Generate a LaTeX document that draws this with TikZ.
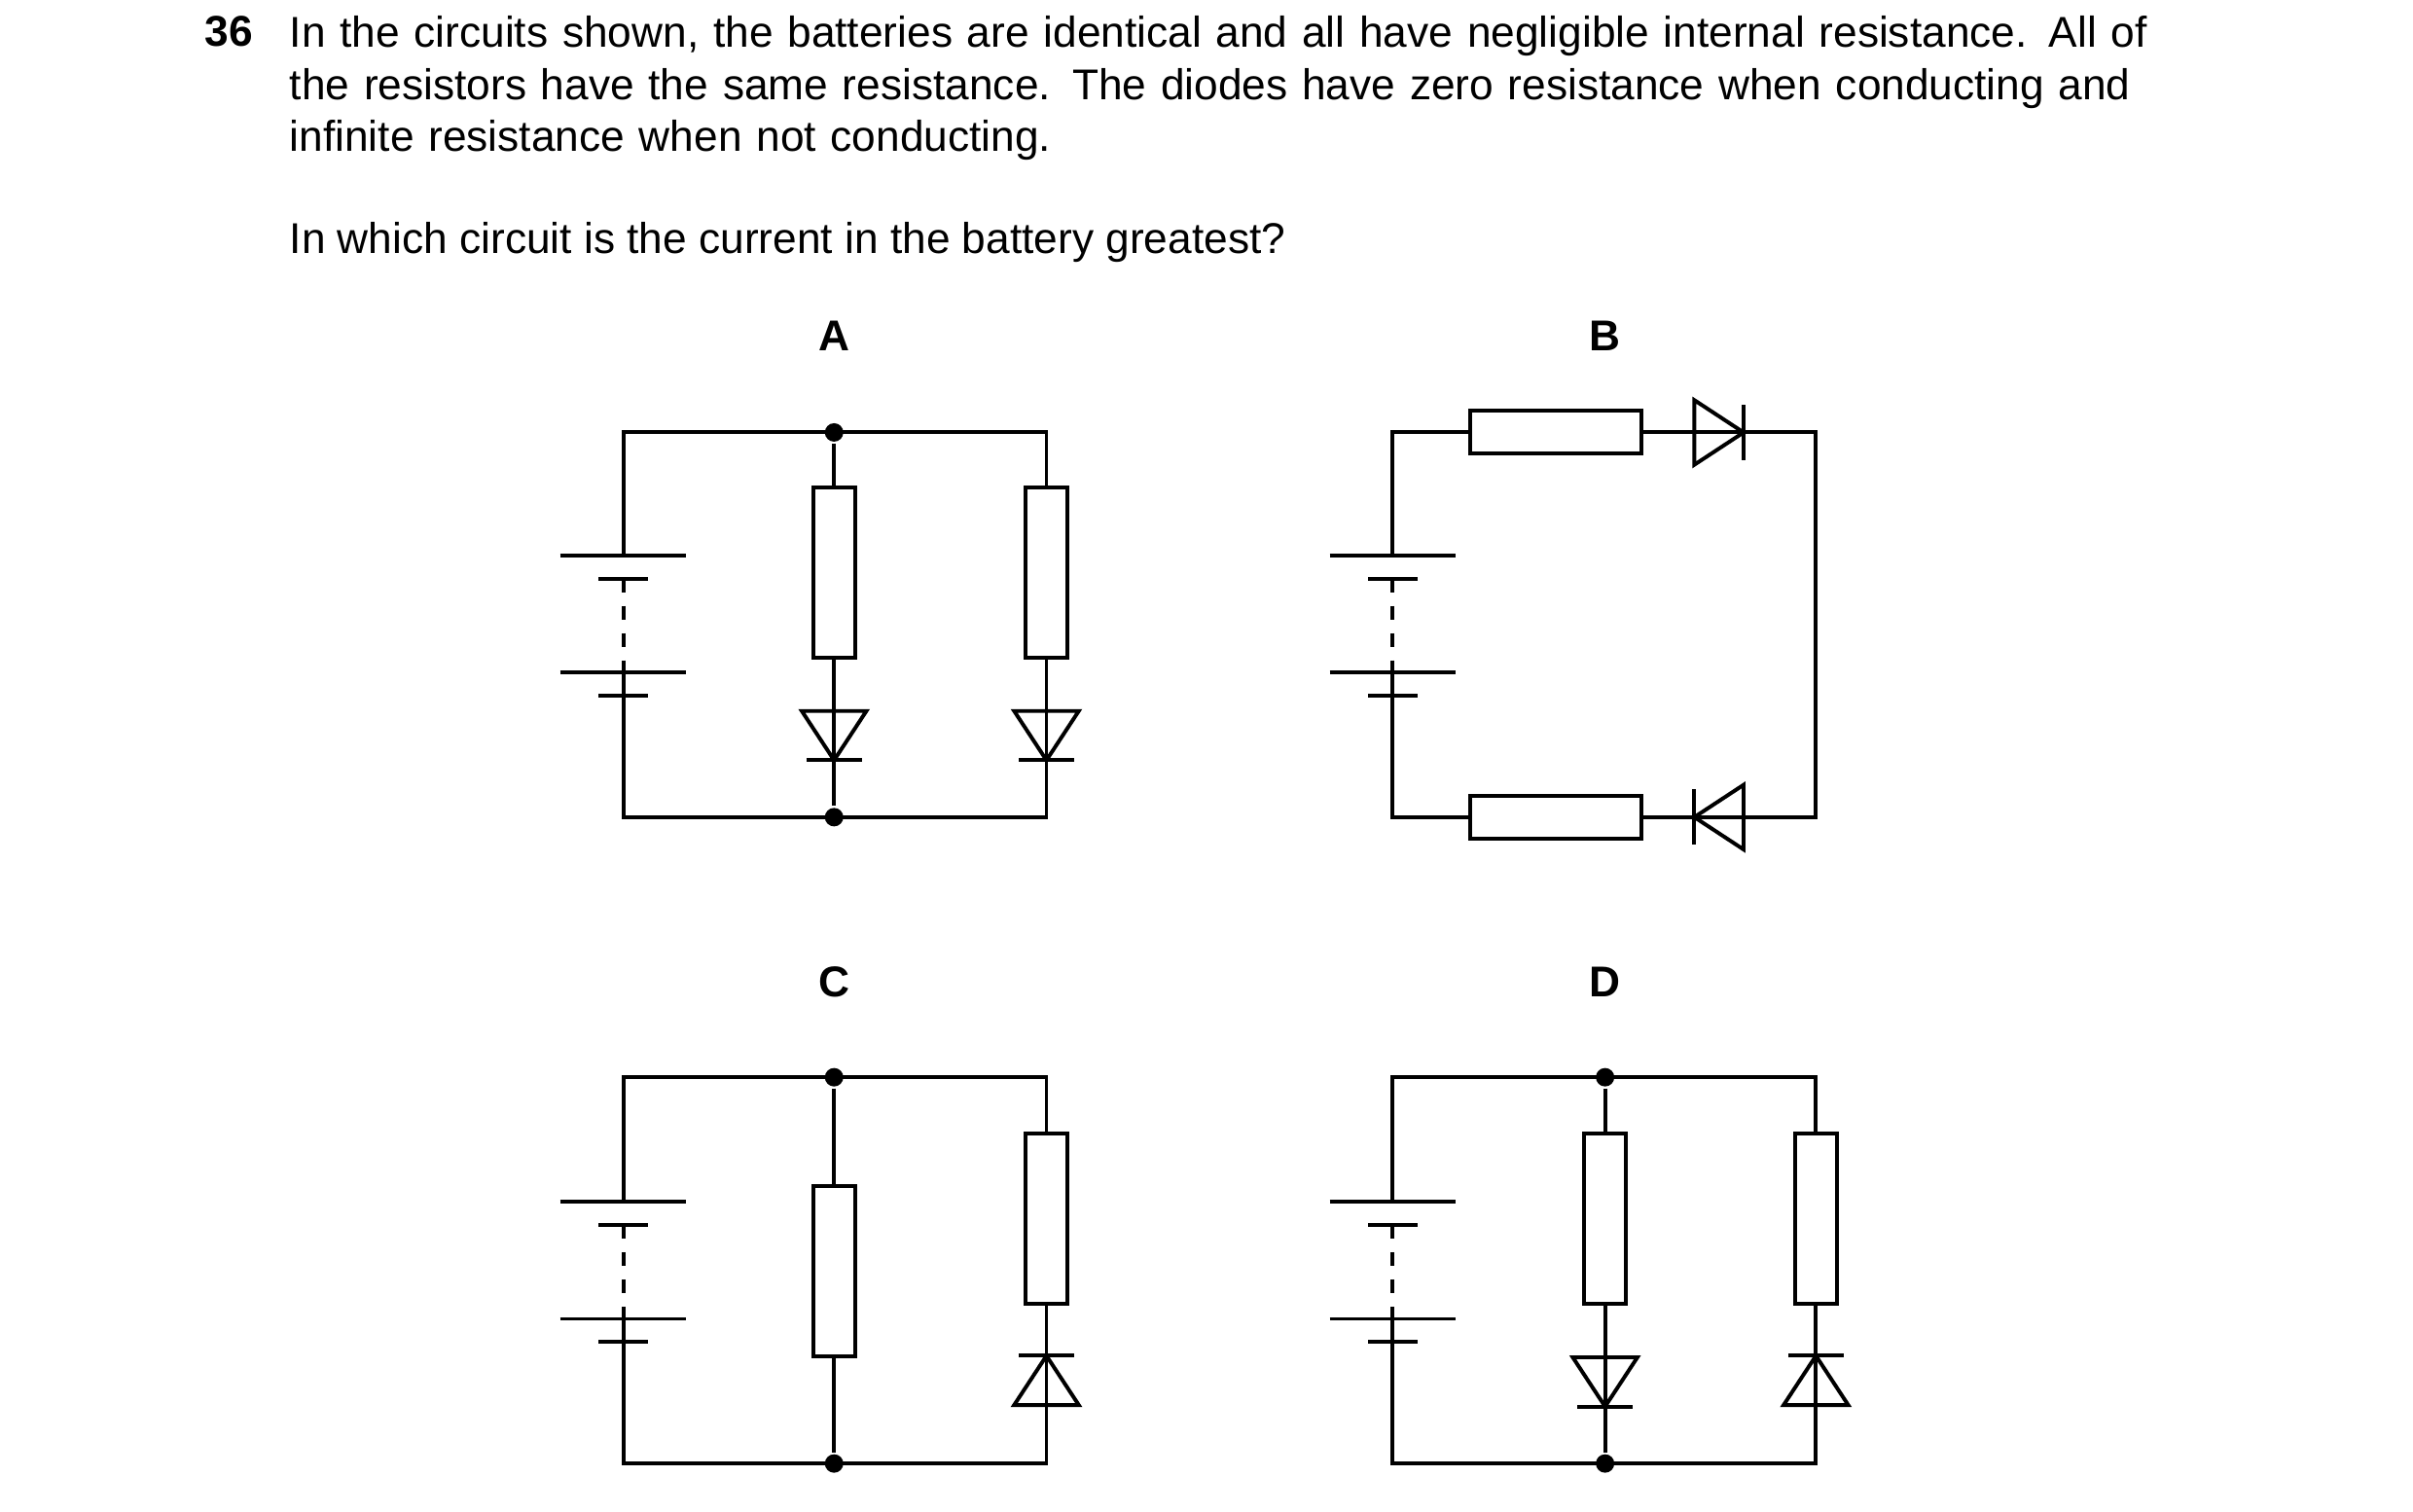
\documentclass[tikz,border=0pt]{standalone}
\usepackage{fontspec}
\setmainfont{Liberation Sans}
\tikzset{
  cell/.pic={
    \coordinate (-p) at (0,0);
    \coordinate (-m) at (0,91);
    \draw (-41,0) -- (41,0);
    \draw (-16,15) -- (16,15);
    \draw (-41,76) -- (41,76);
    \draw (-16,91) -- (16,91);
    \draw[dash pattern=on 0.14cm off 0.14cm] (0,15) -- (0,76);
    \draw (0,76) -- (0,91);
  },
  diode/.pic={
    \coordinate (-a) at (0,0);
    \coordinate (-k) at (0,32);
    \draw[line join=miter] (-21,0) -- (21,0) -- (0,32) -- cycle;
    \draw (-18,32) -- (18,32);
    \draw (0,0) -- (0,32);
  },
}
\begin{document}
\begin{tikzpicture}[x=0.01582cm,y=-0.01582cm,line width=1.12pt,
  every node/.style={inner sep=0pt},
  vres/.style={draw,fill=white,minimum width=0.43cm,minimum height=1.75cm},
  hres/.style={draw,fill=white,minimum width=1.76cm,minimum height=0.44cm},
  dot/.style={circle,fill,minimum size=0.19cm},
  lbl/.style={font=\bfseries\fontsize{12.6pt}{15.3pt}\selectfont}]
  \useasboundingbox (0,0) rectangle (1568,982.5);

  % question text
  \node[lbl,anchor=north west] (qnum) at (132,9) {36};
  \node[anchor=north west,text width=19.78cm,font=\fontsize{12.6pt}{15.3pt}\selectfont] (qtext) at (187,9)
    {In the circuits shown, the batteries are identical and all have negligible internal resistance. All of\linebreak
     the resistors have the same resistance. The diodes have zero resistance when conducting and\linebreak
     infinite resistance when not conducting.\par};
  \node[anchor=north west,font=\fontsize{12.6pt}{15.3pt}\selectfont] (qask) at (187,143)
    {In which circuit is the current in the battery greatest?};

  % labels
  \node[lbl] (labA) at (542,218) {A};
  \node[lbl] (labB) at (1043,218) {B};
  \node[lbl] (labC) at (542,638) {C};
  \node[lbl] (labD) at (1043,638) {D};

  % circuit A
  \coordinate (A-tl) at (405,281);
  \coordinate (A-bl) at (405,531);
  \coordinate (A-tr) at (680,281);
  \coordinate (A-br) at (680,531);
  \node[dot] (A-top) at (542,281) {};
  \node[dot] (A-bot) at (542,531) {};
  \pic (A-bat) at (405,361) {cell};
  \node[vres] (A-r1) at (542,372) {};
  \node[vres] (A-r2) at (680,372) {};
  \pic (A-d1) at (542,462) {diode};
  \pic (A-d2) at (680,462) {diode};
  \draw (A-bat-p) -- (A-tl) -- (A-tr) -- (A-r2.north);
  \draw (A-bat-m) -- (A-bl) -- (A-br) -- (A-d2-k);
  \draw (A-top) -- (A-r1.north);
  \draw (A-r1.south) -- (A-d1-a);
  \draw (A-r2.south) -- (A-d2-a);
  \draw (A-d1-k) -- (A-bot);

  % circuit B
  \coordinate (B-tl) at (905,281);
  \coordinate (B-bl) at (905,531);
  \coordinate (B-tr) at (1180,281);
  \coordinate (B-br) at (1180,531);
  \pic (B-bat) at (905,361) {cell};
  \node[hres] (B-r1) at (1011,281) {};
  \node[hres] (B-r2) at (1011,531) {};
  \pic[rotate=90] (B-d1) at (1101,281) {diode};
  \pic[rotate=-90] (B-d2) at (1133,531) {diode};
  \draw (B-bat-p) -- (B-tl) -- (B-r1.west);
  \draw (B-r1.east) -- (B-d1-a);
  \draw (B-d1-k) -- (B-tr) -- (B-br) -- (B-d2-a);
  \draw (B-d2-k) -- (B-r2.east);
  \draw (B-r2.west) -- (B-bl) -- (B-bat-m);

  % circuit C
  \coordinate (C-tl) at (405,700);
  \coordinate (C-bl) at (405,951);
  \coordinate (C-tr) at (680,700);
  \coordinate (C-br) at (680,951);
  \node[dot] (C-top) at (542,700) {};
  \node[dot] (C-bot) at (542,951) {};
  \pic (C-bat) at (405,781) {cell};
  \node[vres] (C-r1) at (542,826) {};
  \node[vres] (C-r2) at (680,792) {};
  \pic[rotate=180] (C-d2) at (680,913) {diode};
  \draw (C-bat-p) -- (C-tl) -- (C-tr) -- (C-r2.north);
  \draw (C-bat-m) -- (C-bl) -- (C-br) -- (C-d2-a);
  \draw (C-top) -- (C-r1.north);
  \draw (C-r1.south) -- (C-bot);
  \draw (C-r2.south) -- (C-d2-k);

  % circuit D
  \coordinate (D-tl) at (905,700);
  \coordinate (D-bl) at (905,951);
  \coordinate (D-tr) at (1180,700);
  \coordinate (D-br) at (1180,951);
  \node[dot] (D-top) at (1043,700) {};
  \node[dot] (D-bot) at (1043,951) {};
  \pic (D-bat) at (905,781) {cell};
  \node[vres] (D-r1) at (1043,792) {};
  \node[vres] (D-r2) at (1180,792) {};
  \pic (D-d1) at (1043,882) {diode};
  \pic[rotate=180] (D-d2) at (1180,913) {diode};
  \draw (D-bat-p) -- (D-tl) -- (D-tr) -- (D-r2.north);
  \draw (D-bat-m) -- (D-bl) -- (D-br) -- (D-d2-a);
  \draw (D-top) -- (D-r1.north);
  \draw (D-r1.south) -- (D-d1-a);
  \draw (D-d1-k) -- (D-bot);
  \draw (D-r2.south) -- (D-d2-k);
\end{tikzpicture}
\end{document}
